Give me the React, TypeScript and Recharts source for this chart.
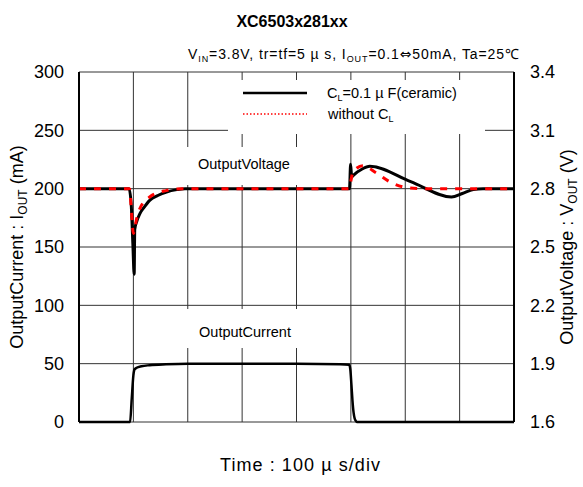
import React from "react";
import { LineChart, Line, XAxis, YAxis, CartesianGrid, ReferenceLine } from "recharts";

// Time axis (µs), 8 divisions of 100 µs
const timeTicks = [0, 100, 200, 300, 400, 500, 600, 700, 800];
const currentTicks = [0, 50, 100, 150, 200, 250, 300];
const voltageTicks = [1.6, 1.9, 2.2, 2.5, 2.8, 3.1, 3.4];

// Output current (mA)
const currentT = [0, 94, 97, 100, 102, 106, 115, 130, 160, 200, 300, 400, 480, 497, 499, 501, 503, 505, 507, 509, 511, 800];
const currentMA = [0, 0, 20, 40, 45, 46.5, 47.8, 48.7, 49.5, 50, 50, 50, 49.6, 49, 45, 32, 18, 8, 3, 1, 0, 0];

// Output voltage with CL = 0.1µF (V)
const vClT = [0, 92, 96, 99, 101.5, 102.5, 106, 112, 120, 130, 145, 161, 180, 195, 300, 400, 497.5, 499.5, 501.5, 505, 520, 535, 610, 685, 705, 725, 743, 800];
const vClV = [2.8, 2.8, 2.72, 2.52, 2.36, 2.59, 2.63, 2.672, 2.705, 2.74, 2.765, 2.783, 2.795, 2.8, 2.8, 2.8, 2.8, 2.925, 2.86, 2.87, 2.9, 2.915, 2.836, 2.757, 2.775, 2.795, 2.8, 2.8];

// Output voltage without CL (V)
const vNoT = [0, 93, 96, 100, 106, 112, 130, 160, 190, 300, 400, 497, 500, 504, 522, 547, 575, 603, 630, 800];
const vNoV = [2.8, 2.8, 2.7, 2.57, 2.646, 2.698, 2.757, 2.79, 2.8, 2.8, 2.8, 2.8, 2.84, 2.886, 2.918, 2.88, 2.83, 2.805, 2.8, 2.8];

const currentData = currentT.map((t, i) => ({ t, v: currentMA[i] }));
const vClData = vClT.map((t, i) => ({ t, v: vClV[i] }));
const vNoData = vNoT.map((t, i) => ({ t, v: vNoV[i] }));

const FONT = '"Liberation Sans", Arial, sans-serif';

export default function App() {
  return (
    <div style={{ position: "absolute", left: 0, top: 0, width: 583, height: 487, background: "#fff", fontFamily: FONT }}>
      <LineChart width={583} height={487} margin={{ top: 72, right: 29, bottom: 65, left: 39 }}>
        <CartesianGrid yAxisId="left" vertical={false} stroke="#333" strokeWidth={1} />
        <XAxis
          dataKey="t"
          type="number"
          domain={[0, 800]}
          ticks={timeTicks}
          tick={false}
          tickLine={false}
          height={0}
          axisLine={{ stroke: "#000", strokeWidth: 2 }}
          allowDataOverflow
        />
        <YAxis
          yAxisId="left"
          orientation="left"
          type="number"
          domain={[0, 300]}
          ticks={currentTicks}
          width={40}
          tickLine={false}
          tickSize={0}
          tickMargin={15}
          axisLine={{ stroke: "#000", strokeWidth: 2 }}
          tick={{ fill: "#000", fontSize: 18, fontFamily: FONT }}
        />
        <YAxis
          yAxisId="right"
          orientation="right"
          type="number"
          domain={[1.6, 3.4]}
          ticks={voltageTicks}
          width={40}
          tickLine={false}
          tickSize={0}
          tickMargin={16}
          axisLine={{ stroke: "#000", strokeWidth: 2 }}
          tickFormatter={(v: number) => v.toFixed(1)}
          tick={{ fill: "#000", fontSize: 18, fontFamily: FONT, textAnchor: "start" }}
          allowDataOverflow
        />
        {timeTicks.slice(1, -1).map((t) => (
          <ReferenceLine key={t} yAxisId="left" x={t} stroke="#333" strokeWidth={1} ifOverflow="visible" />
        ))}
        <Line yAxisId="left" data={currentData} dataKey="v" type="monotone" stroke="#000" strokeWidth={2.5} dot={false} isAnimationActive={false} />
        <Line yAxisId="right" data={vClData} dataKey="v" type="monotone" stroke="#000" strokeWidth={3} dot={false} isAnimationActive={false} />
        <Line yAxisId="right" data={vNoData} dataKey="v" type="monotone" stroke="#ff0000" strokeWidth={3} strokeDasharray="7 8" dot={false} isAnimationActive={false} />
      </LineChart>
      <svg width={583} height={487} style={{ position: "absolute", left: 0, top: 0, pointerEvents: "none" }} fontFamily={FONT}>
        <text x={292} y={27} textAnchor="middle" fontSize={16} fontWeight="bold" fill="#000">XC6503x281xx</text>
        <text x={519} y={59} textAnchor="end" fontSize={14} fill="#000" textLength={331} lengthAdjust="spacing">
          V<tspan fontSize={9} dy={3}>IN</tspan><tspan dy={-3}>=3.8V, tr=tf=5 µ s, I</tspan><tspan fontSize={9} dy={3}>OUT</tspan><tspan dy={-3}>=0.1</tspan><tspan fontFamily="DejaVu Sans">⇔</tspan><tspan>50mA, Ta=25℃</tspan>
        </text>
        {/* legend */}
        <rect x={228} y={80} width={257} height={54} fill="#fff" />
        <line x1={243} y1={93} x2={307} y2={93} stroke="#000" strokeWidth={2.5} />
        <line x1={243} y1={114} x2={307} y2={114} stroke="#ff0000" strokeWidth={1.5} strokeDasharray="1.5 2" />
        <text x={327} y={98} fontSize={14.5} fill="#000">
          C<tspan fontSize={9} dy={3}>L</tspan><tspan dy={-3}>=0.1 µ F(ceramic)</tspan>
        </text>
        <text x={328} y={119} fontSize={14.5} fill="#000">
          without C<tspan fontSize={9} dy={3}>L</tspan>
        </text>
        {/* series labels */}
        <rect x={180} y={147} width={125} height={38} fill="#fff" />
        <text x={244} y={169} textAnchor="middle" fontSize={14.5} fill="#000">OutputVoltage</text>
        <rect x={180} y={309} width={125} height={39} fill="#fff" />
        <text x={245} y={337} textAnchor="middle" fontSize={14.5} fill="#000">OutputCurrent</text>
        {/* axis titles */}
        <text transform="translate(23,247) rotate(-90)" textAnchor="middle" fontSize={18} fill="#000">
          OutputCurrent : I<tspan fontSize={12} dy={4}>OUT</tspan><tspan dy={-4}> (mA)</tspan>
        </text>
        <text transform="translate(573,247) rotate(-90)" textAnchor="middle" fontSize={18} fill="#000">
          OutputVoltage : V<tspan fontSize={12} dy={4}>OUT</tspan><tspan dy={-4}> (V)</tspan>
        </text>
        <text x={300} y={471} textAnchor="middle" fontSize={18} fill="#000" textLength={160} lengthAdjust="spacing">Time : 100 µ s/div</text>
      </svg>
    </div>
  );
}
